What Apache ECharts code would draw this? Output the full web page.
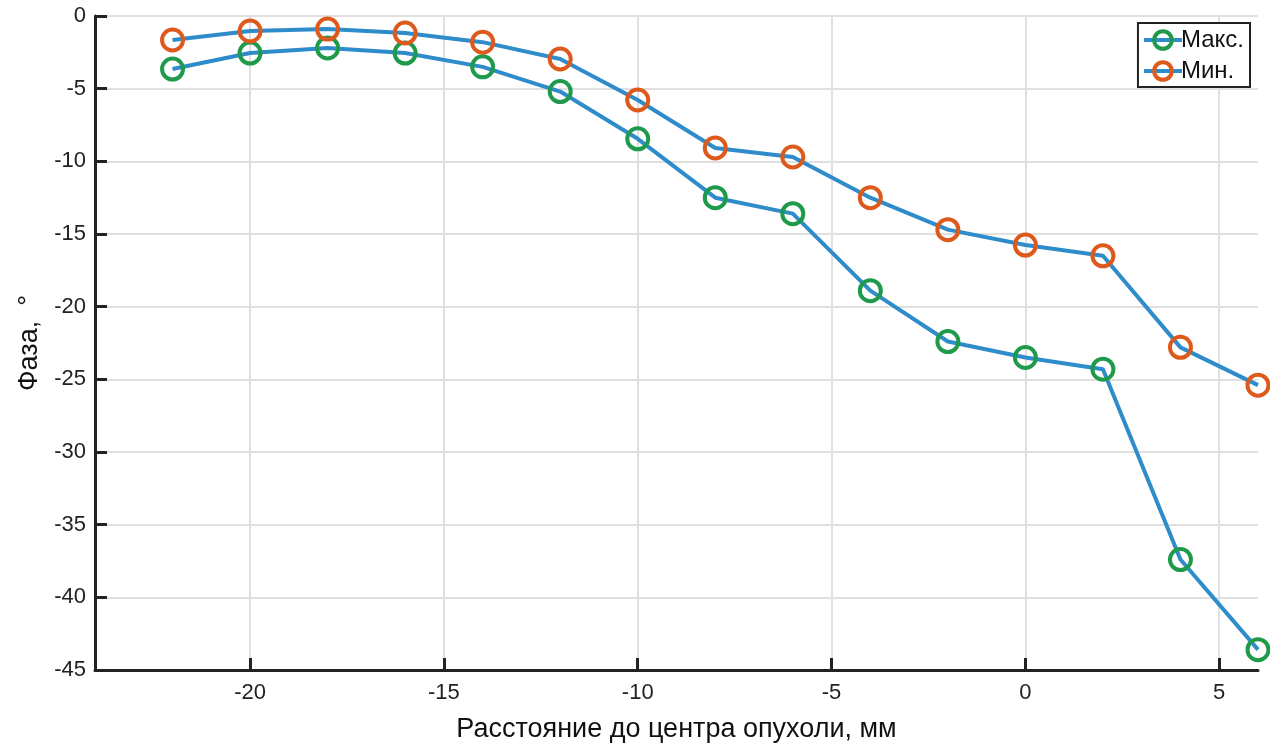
<!DOCTYPE html>
<html>
<head>
<meta charset="utf-8">
<script src="https://cdn.jsdelivr.net/npm/echarts@6/dist/echarts.min.js"></script>
<style>
html,body{margin:0;padding:0;background:#fff;}
#main{width:1270px;height:747px;}
</style>
</head>
<body>
<div id="main"></div>
<script>
// расстояние, мм
var xVals = [-22, -20, -18, -16, -14, -12, -10, -8, -6, -4, -2, 0, 2, 4, 6];
var maxPhase = [-3.65, -2.55, -2.2, -2.55, -3.5, -5.2, -8.45, -12.5, -13.6, -18.9, -22.4, -23.5, -24.3, -37.4, -43.6];
var minPhase = [-1.65, -1.03, -0.9, -1.17, -1.8, -2.96, -5.78, -9.08, -9.7, -12.5, -14.7, -15.76, -16.5, -22.8, -25.4];
var xTicks = [-20, -15, -10, -5, 0, 5];
var seriesNames = ['Макс.', 'Мин.'];

function pairs(ys){
	return xVals.map(function(x, i){ return [x, ys[i]]; });
}

var myChart = echarts.init(document.getElementById('main'));
var font = 'Liberation Sans, Arial, sans-serif';
var option = {
	animation: false,
	textStyle: { fontFamily: font },
	grid: { left: 95, right: 12, top: 16, bottom: 77, outerBoundsMode: 'none', containLabel: false },
	legend: {
		right: 20, top: 23,
		orient: 'vertical',
		itemGap: 7,
		itemWidth: 38, itemHeight: 22,
		padding: [5, 6, 4, 4],
		borderColor: '#222', borderWidth: 2,
		borderRadius: 0,
		backgroundColor: '#fff',
		lineStyle: { width: 4 },
		itemStyle: { borderWidth: 4 },
		textStyle: { fontSize: 24, color: '#111', fontFamily: font, padding: [0, 0, 0, -6] },
		data: seriesNames
	},
	xAxis: {
		type: 'value', min: -24, max: 6, interval: 5,
		name: 'Расстояние до центра опухоли, мм',
		nameLocation: 'middle', nameGap: 46,
		nameTextStyle: { fontSize: 27, color: '#111' },
		axisLine: { onZero: false, lineStyle: { color: '#222', width: 3 } },
		axisTick: { inside: true, length: 12, lineStyle: { color: '#222', width: 3 }, customValues: xTicks },
		axisLabel: { fontSize: 22, color: '#222', margin: 12, customValues: xTicks },
		splitLine: { show: true, lineStyle: { color: '#e0e0e0', width: 2 } }
	},
	yAxis: {
		type: 'value', min: -45, max: 0, interval: 5,
		name: 'Фаза,  °',
		nameLocation: 'middle', nameGap: 45, nameRotate: 90,
		nameTextStyle: { fontSize: 27, color: '#111' },
		axisLine: { show: true, onZero: false, lineStyle: { color: '#222', width: 3 } },
		axisTick: { show: true, inside: true, length: 12, lineStyle: { color: '#222', width: 3 } },
		axisLabel: { fontSize: 22, color: '#222', margin: 9 },
		splitLine: { show: true, lineStyle: { color: '#e0e0e0', width: 2 } }
	},
	series: [
		{
			name: seriesNames[0], type: 'line', data: pairs(maxPhase),
			symbol: 'circle', symbolSize: 21,
			lineStyle: { color: '#2f8ccb', width: 4 },
			itemStyle: { color: 'rgba(255,255,255,0)', borderColor: '#1f9a4b', borderWidth: 4 }
		},
		{
			name: seriesNames[1], type: 'line', data: pairs(minPhase),
			symbol: 'circle', symbolSize: 21,
			lineStyle: { color: '#2f8ccb', width: 4 },
			itemStyle: { color: 'rgba(255,255,255,0)', borderColor: '#dd5a1c', borderWidth: 4 }
		}
	]
};
myChart.setOption(option);
</script>
</body>
</html>
